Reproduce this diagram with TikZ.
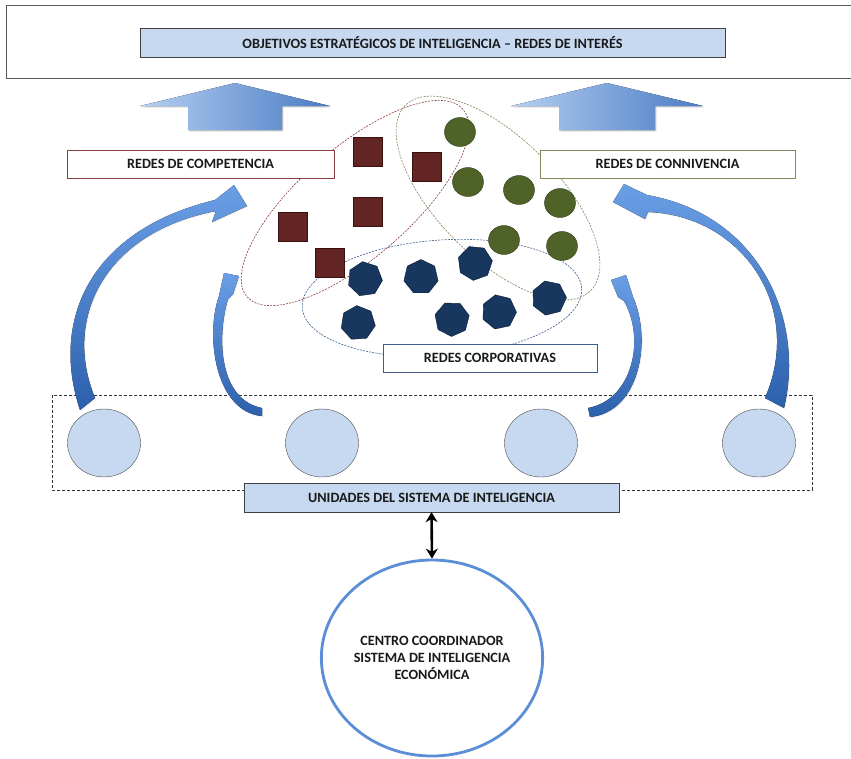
\documentclass[tikz,border=0pt]{standalone}
\usepackage{fontspec}
\setmainfont{Carlito}
\usetikzlibrary{shapes.geometric,shadows,arrows.meta}
\definecolor{boxblue}{HTML}{C6D9F1}
\definecolor{sqred}{HTML}{632523}
\definecolor{sqredd}{HTML}{3A1010}
\definecolor{olv}{HTML}{4F6228}
\definecolor{olvd}{HTML}{2C3816}
\definecolor{navy}{HTML}{17375E}
\definecolor{navyd}{HTML}{0C1E36}
\definecolor{unitfill}{HTML}{C6D9F1}
\definecolor{ringblue}{HTML}{5B8ED6}
\definecolor{arrlight}{HTML}{B4CFF2}
\definecolor{arrdark}{HTML}{4A7CC4}
\definecolor{carrlight}{HTML}{6A9FE6}
\definecolor{carrdark}{HTML}{2D60AC}
\definecolor{redline}{HTML}{8B3E3E}
\definecolor{olvline}{HTML}{85855A}
\definecolor{blueline}{HTML}{3D5F8E}
\tikzset{
  lbl/.style={font=\fontsize{14.2}{17}\selectfont\bfseries, text=black!90},
  plainbox/.style={draw, fill=white, lbl, minimum height=28pt, inner sep=0pt},
  fillbox/.style={draw=black!75, fill=boxblue, lbl, minimum height=29pt, inner sep=0pt},
  sqshape/.style={rectangle, fill=sqred, draw=sqredd, minimum size=29pt, inner sep=0pt},
  olvshape/.style={ellipse, fill=olv, draw=olvd, minimum width=31pt, minimum height=29pt, inner sep=0pt},
  hepshape/.style={regular polygon, regular polygon sides=7, fill=navy, draw=navyd, minimum size=35pt, inner sep=0pt},
  unitshape/.style={ellipse, fill=unitfill, draw=black!70, minimum width=73pt, minimum height=68pt, inner sep=0pt},
  netline/.style={dashed, dash pattern=on 2pt off 1.2pt, line width=0.6pt},
  uparrow/.style={left color=arrlight, right color=arrdark, draw=none,
     drop shadow={opacity=0.25, shadow xshift=1.5pt, shadow yshift=-1.5pt}},
  curvearrow/.style={top color=carrlight, bottom color=carrdark, draw=none,
     drop shadow={opacity=0.14, shadow xshift=1pt, shadow yshift=-1pt}},
}
\begin{document}
\begin{tikzpicture}[x=1pt,y=-1pt]
\useasboundingbox (0,0) rectangle (851,758);
\fill[white] (0,0) rectangle (851,758);

% top frame
\draw[black!65, line width=0.7pt] (855,5) -- (6,5) -- (6,78) -- (855,78);
\node[fillbox, minimum width=585pt] (title) at (432.5,42.5) {OBJETIVOS ESTRATÉGICOS DE INTELIGENCIA – REDES DE INTERÉS};

% up arrows
\fill[uparrow] (188,130) -- (188,106) -- (140,106) -- (235,83) -- (330,106) -- (282,106) -- (282,130) -- cycle;
\fill[uparrow] (559,130) -- (559,106) -- (511,106) -- (607,83) -- (703,106) -- (655,106) -- (655,130) -- cycle;

% network ellipses
\draw[netline, redline, rotate around={41:(355,203)}] (355,203) ellipse [x radius=143pt, y radius=55pt];
\draw[netline, olvline, rotate around={-45:(498,198)}] (498,198) ellipse [x radius=131pt, y radius=60pt];
\draw[netline, blueline, rotate around={4:(442,298)}] (442,298) ellipse [x radius=140pt, y radius=58pt];

% squares
\node[sqshape] (s1) at (368,152) {};
\node[sqshape] (s2) at (427,167) {};
\node[sqshape] (s3) at (293,227) {};
\node[sqshape] (s4) at (368,212) {};
\node[sqshape] (s5) at (330,263) {};

% olive circles
\node[olvshape] (o1) at (460,132) {};
\node[olvshape] (o2) at (468,182) {};
\node[olvshape] (o3) at (519,190) {};
\node[olvshape] (o4) at (560,203) {};
\node[olvshape] (o5) at (504,240) {};
\node[olvshape] (o6) at (562,246) {};

% heptagons
\node[hepshape, rotate=8] (h1) at (365,279) {};
\node[hepshape, rotate=0] (h2) at (421,277) {};
\node[hepshape, rotate=20] (h3) at (475,263) {};
\node[hepshape, rotate=14] (h4) at (549,298) {};
\node[hepshape, rotate=4] (h5) at (358,323) {};
\node[hepshape, rotate=24] (h6) at (452,319) {};
\node[hepshape, rotate=12] (h7) at (499,312) {};

% label boxes
\node[plainbox, draw=redline, minimum width=267pt] (comp) at (200.5,164) {REDES DE COMPETENCIA};
\node[plainbox, draw=olvline, minimum width=255pt] (conn) at (667.5,164) {REDES DE CONNIVENCIA};
\node[plainbox, draw=blueline, minimum width=214pt] (corp) at (490,358) {REDES CORPORATIVAS};

% units frame
\draw[dashed, dash pattern=on 3pt off 2pt, black!80, line width=0.6pt] (52,395) rectangle (812,490);
\node[unitshape] (u1) at (104,443) {};
\node[unitshape] (u2) at (322,443) {};
\node[unitshape] (u3) at (541,443) {};
\node[unitshape] (u4) at (759,443) {};

% curved arrows
\fill[curvearrow] (80,410) .. controls (50,320) and (90,230) .. (215,200) -- (234,185) -- (247,206) -- (212,222) -- (216,211) .. controls (105,232) and (62,318) .. (95,398) -- cycle;
\fill[curvearrow] (262,416) .. controls (215,412) and (205,335) .. (219,296) -- (224,273) -- (239,276) -- (233,294) -- (228,299) .. controls (216,340) and (220,400) .. (262,408) -- cycle;
\fill[curvearrow] (784,408) .. controls (805,320) and (760,215) .. (647,195) -- (624,184) -- (613,202) -- (645,219) -- (648,212) .. controls (740,215) and (805,305) .. (765,398) -- cycle;
\fill[curvearrow] (590,417) .. controls (640,412) and (652,340) .. (633,297) -- (626,275) -- (611,280) -- (618,297) -- (624,301) .. controls (646,340) and (632,400) .. (588,408) -- cycle;

\node[fillbox, minimum width=375pt] (units) at (431.5,497.5) {UNIDADES DEL SISTEMA DE INTELIGENCIA};

% coordinating centre
\node[ellipse, draw=ringblue, line width=2.8pt, fill=white, minimum width=218pt, minimum height=196pt, inner sep=0pt, lbl, align=center] (centro) at (432,658) {CENTRO COORDINADOR\\SISTEMA DE INTELIGENCIA\\ECONÓMICA};
\draw[{Stealth[length=10pt,width=12pt]}-{Stealth[length=10pt,width=12pt]}, line width=2.6pt] (units.south) -- (centro.north);
\end{tikzpicture}
\end{document}
